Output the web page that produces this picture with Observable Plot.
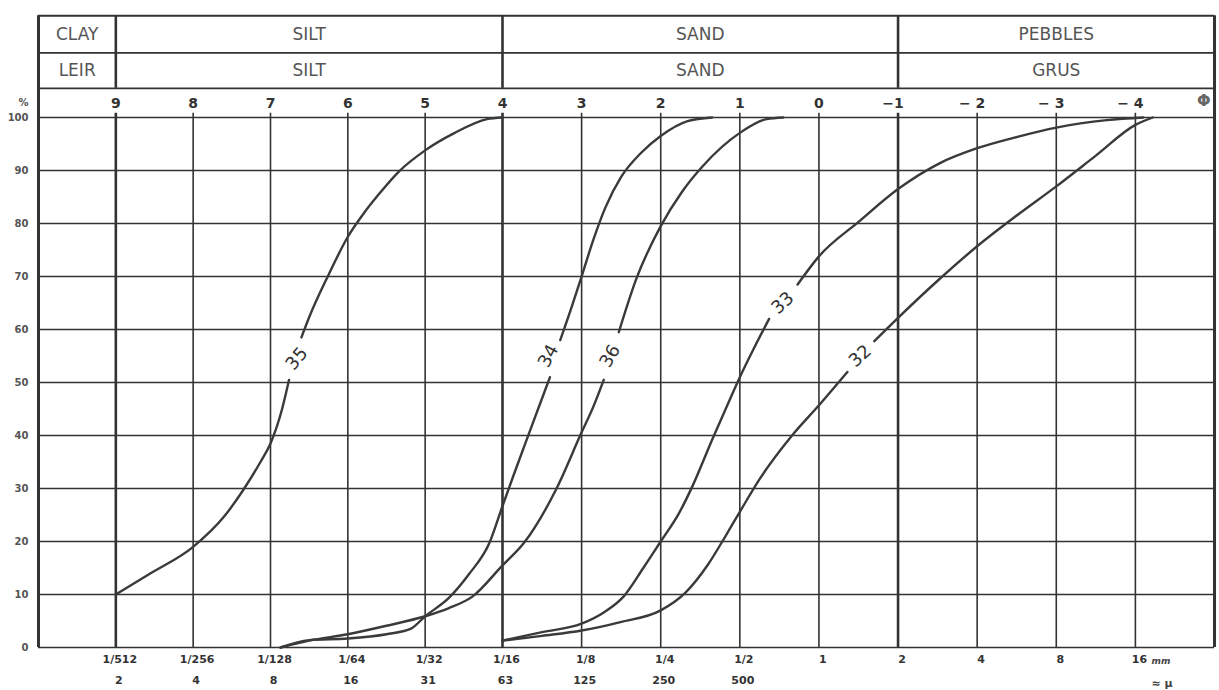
<!DOCTYPE html>
<html>
<head>
<meta charset="utf-8">
<script src="https://cdn.jsdelivr.net/npm/d3@7"></script>
<script src="https://cdn.jsdelivr.net/npm/@observablehq/plot@0.6"></script>
<style>
  html, body { margin: 0; padding: 0; background: #fff; }
  #chart svg { display: block; }
</style>
</head>
<body>
<div id="chart"></div>
<script>
// ---- axis / tick data ----
const phiTicks = [9, 8, 7, 6, 5, 4, 3, 2, 1, 0, -1, -2, -3, -4];
const mmLabels = ["1/512", "1/256", "1/128", "1/64", "1/32", "1/16", "1/8", "1/4", "1/2", "1", "2", "4", "8", "16"];
const muPhi = [9, 8, 7, 6, 5, 4, 3, 2, 1];
const muLabels = ["2", "4", "8", "16", "31", "63", "125", "250", "500"];
const pctTicks = [0, 10, 20, 30, 40, 50, 60, 70, 80, 90, 100];

// ---- header table (grain-size classes) ----
const classBounds = [10, 9, 4, -1, -5];
const classNamesEn = ["CLAY", "SILT", "SAND", "PEBBLES"];
const classNamesNo = ["LEIR", "SILT", "SAND", "GRUS"];
const headerEdges = [119.2, 112.2, 105.5];   // top, row divider, bottom (in % units above the grid)
const headerRowText = [115.7, 108.9];

// ---- cumulative curves: [phi, cumulative %]; null = gap for the handwritten label ----
const curve35 = [[9,10],[8.55,14],[8,19],[7.6,24.7],[7.34,30],[7.13,35],[7,38.5],[6.85,45],[6.76,50.5],null,
  [6.6,58.5],[6.5,62.3],[6.25,70.3],[6,77.5],[5.8,81.8],[5.6,85.5],[5.34,89.8],[5,93.8],[4.63,97],[4.2,99.7],[4,100]];
const curve34 = [[6.87,0],[6.5,1.4],[6,1.7],[5.5,2.5],[5.19,3.5],[5,5.9],[4.69,9.4],[4.43,13.9],[4.17,19.7],[4,26.7],
  [3.86,32.5],[3.7,39],[3.55,45],[3.4,51],null,
  [3.27,58],[3.12,64.5],[3,70],[2.85,77],[2.7,83],[2.5,88.8],[2.25,93.3],[2,96.5],[1.66,99.3],[1.35,100]];
const curve36 = [[6.87,0],[6.5,1.3],[6,2.5],[5.5,4.1],[5,5.9],[4.7,7.4],[4.39,9.6],[4,15.5],[3.73,19.7],[3.32,29.9],
  [3,40.6],[2.85,45.5],[2.72,50.5],null,
  [2.53,59.5],[2.31,69.5],[2,79.5],[1.73,86],[1.47,90.8],[1,97.1],[0.66,99.7],[0.45,100]];
const curve33 = [[4,1.3],[3.5,2.9],[3,4.5],[2.71,6.7],[2.47,9.6],[2.22,15],[2,20],[1.77,25.3],[1.6,30.4],[1.35,39.2],
  [1.15,46],[1,51],[0.82,56.5],[0.63,62],null,
  [0.27,68.5],[0,73.8],[-0.5,80.3],[-1,86.5],[-1.53,91.4],[-2,94.2],[-2.52,96.4],[-3,98.1],[-3.64,99.5],[-4.1,100]];
const curve32 = [[4,1.3],[3.5,2.2],[3,3.2],[2.51,4.8],[2,7],[1.69,10.3],[1.4,15.7],[1.19,20.8],[1,25.6],[0.74,32],
  [0.34,40],[0,45.7],[-0.36,52],null,
  [-0.7,57.8],[-1,62.2],[-1.5,69.2],[-2,75.7],[-2.5,81.5],[-3,87],[-3.5,92.8],[-4,98.6],[-4.22,100]];

// ---- curve labels ----
const labelIds = ["35", "34", "36", "33", "32"];
const labelPhi = [6.66, 3.42, 2.64, 0.46, -0.52];
const labelPct = [54.5, 55, 55, 65, 55];
const labelAngle = [-50, -62, -60, -42, -42];

// ---- build tables ----
const curves = {"35": curve35, "34": curve34, "36": curve36, "33": curve33, "32": curve32};
const linePts = [];
for (const [id, pts] of Object.entries(curves)) {
  for (const p of pts) {
    linePts.push(p ? {id, phi: p[0], pct: p[1]} : {id, phi: NaN, pct: NaN});
  }
}
const headerCells = [];
classNamesEn.forEach((n, i) => headerCells.push({name: n, mid: (classBounds[i] + classBounds[i + 1]) / 2, y: headerRowText[0]}));
classNamesNo.forEach((n, i) => headerCells.push({name: n, mid: (classBounds[i] + classBounds[i + 1]) / 2, y: headerRowText[1]}));
const labels = labelIds.map((t, i) => ({t, phi: labelPhi[i], pct: labelPct[i], a: labelAngle[i]}));
const boldPhi = classBounds.slice(1, -1);
const thinPhi = phiTicks.filter(d => !boldPhi.includes(d));
const ink = "#333";

const chart = Plot.plot({
  width: 1219,
  height: 690,
  marginLeft: 38,
  marginRight: 5,
  marginTop: 117,
  marginBottom: 43,
  x: {type: "linear", domain: [10, 4, -5], range: [38, 502, 1214], axis: null},
  y: {domain: [0, 100], range: [647, 117], axis: null},
  style: {fontFamily: "DejaVu Sans, sans-serif", background: "#fff", color: ink, overflow: "visible"},
  marks: [
    // grid
    Plot.ruleY(pctTicks, {x1: 10, x2: -5, stroke: ink, strokeWidth: 1.3}),
    Plot.ruleX(thinPhi, {y1: 0, y2: 100.8, stroke: ink, strokeWidth: 1.6}),
    Plot.ruleX(boldPhi, {y1: 0, y2: 100.8, stroke: ink, strokeWidth: 2.6}),
    Plot.ruleX(boldPhi, {y1: headerEdges[2], y2: headerEdges[0], stroke: ink, strokeWidth: 2.6}),
    Plot.ruleX([10, -5], {y1: 0, y2: headerEdges[0], stroke: ink, strokeWidth: 3}),
    Plot.ruleY(headerEdges, {x1: 10, x2: -5, stroke: ink, strokeWidth: 1.8}),
    // header class names
    Plot.text(headerCells, {x: "mid", y: "y", text: "name", fontSize: 17, fill: "#555", style: "letter-spacing:3px"}),
    // phi scale labels
    Plot.text(phiTicks.filter(d => d >= 0), {x: d => d, frameAnchor: "top", lineAnchor: "middle", dy: -14, text: d => String(d), fontSize: 14, fontWeight: "bold", fill: ink}),
    Plot.text(phiTicks.filter(d => d < 0), {x: d => d, frameAnchor: "top", lineAnchor: "middle", dy: -14, dx: -5, text: d => (d === -1 ? "\u2212" : "\u2212 ") + (-d), fontSize: 14, fontWeight: "bold", fill: ink}),
    Plot.text(["\u03A6"], {frameAnchor: "top-right", lineAnchor: "middle", dx: -4, dy: -17, text: d => d, fontSize: 16, fontWeight: "bold", fill: "#666"}),
    Plot.text(["%"], {frameAnchor: "top-left", lineAnchor: "middle", dx: -20, dy: -15, text: d => d, fontSize: 10, fontWeight: "bold", fill: "#555"}),
    // y axis
    Plot.axisY(pctTicks, {anchor: "left", tickSize: 0, tickPadding: 10, fontSize: 10, fontWeight: "bold", fill: "#555"}),
    // bottom axes: mm and micron
    Plot.axisX(phiTicks, {anchor: "bottom", tickSize: 0, tickPadding: 8, dx: 4, fontSize: 11, fontWeight: "bold", fill: ink,
      tickFormat: d => mmLabels[phiTicks.indexOf(d)]}),
    Plot.axisX(muPhi, {anchor: "bottom", tickSize: 0, tickPadding: 29, dx: 3, fontSize: 11, fontWeight: "bold", fill: ink,
      tickFormat: d => muLabels[muPhi.indexOf(d)]}),
    Plot.text(["mm"], {frameAnchor: "bottom-right", lineAnchor: "middle", textAnchor: "start", dx: -63, dy: 14, text: d => d, fontSize: 9, fontStyle: "italic", fontWeight: "bold", fill: "#444"}),
    Plot.text(["\u2248 \u03BC"], {frameAnchor: "bottom-right", lineAnchor: "middle", textAnchor: "start", dx: -63, dy: 36, text: d => d, fontSize: 11, fontWeight: "bold", fill: "#444"}),
    // curves
    Plot.line(linePts, {x: "phi", y: "pct", z: "id", curve: "monotone-x", stroke: "#3a3a3a", strokeWidth: 2.4}),
    // handwritten labels
    Plot.text(labels, {x: "phi", y: "pct", text: "t", rotate: "a", fontSize: 18, fill: "#333"})
  ]
});
document.getElementById("chart").appendChild(chart);
</script>
</body>
</html>
